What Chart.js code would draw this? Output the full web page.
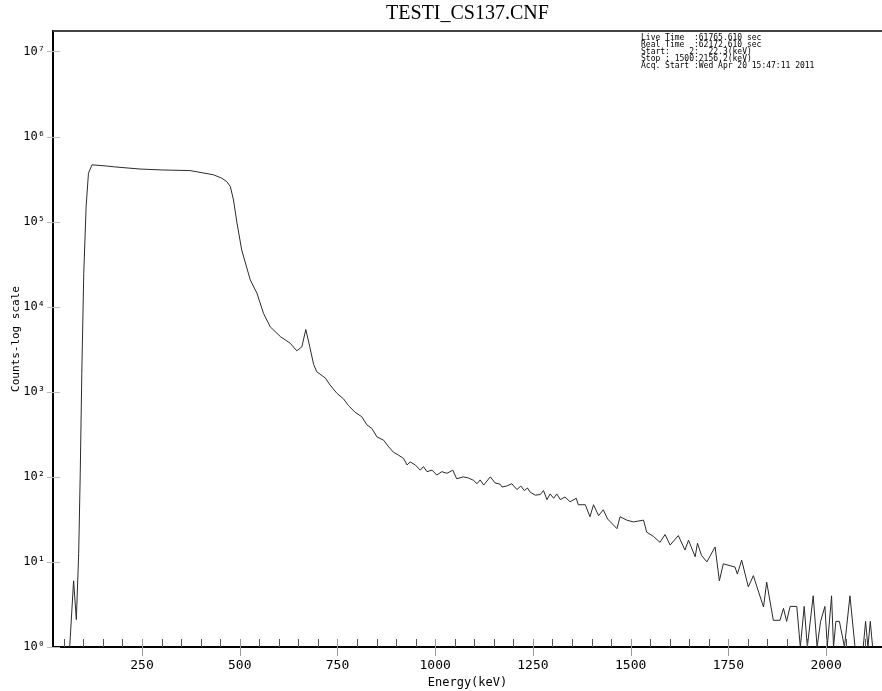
<!DOCTYPE html>
<html>
<head>
<meta charset="utf-8">
<title>TESTI_CS137.CNF</title>
<script src="https://cdn.jsdelivr.net/npm/chart.js@4.4.1/dist/chart.umd.min.js"></script>
<style>
  html, body { margin: 0; padding: 0; background: #fff; overflow: hidden; }
  canvas { display: block; }
</style>
</head>
<body>
<canvas id="spectrumChart" width="882" height="691"></canvas>
<script>
// Spectrum data (energy in keV, counts)
const energyKeV = [65, 75, 82, 88, 92, 96, 101, 107, 113, 122, 160, 180, 245, 300, 373, 433, 454, 467, 476, 484,
    493, 505, 527, 544, 561, 578, 604, 629, 646, 659, 669, 679, 689, 697, 719, 731, 749, 765, 778, 795,
    812, 825, 838, 851, 868, 881, 893, 906, 919, 928, 936, 949, 962, 970, 979, 992, 1004, 1017, 1030, 1045,
    1055, 1072, 1085, 1098, 1107, 1115, 1124, 1141, 1153, 1166, 1171, 1183, 1196, 1209, 1219, 1228, 1236, 1243, 1256, 1269,
    1277, 1286, 1294, 1303, 1311, 1320, 1332, 1345, 1361, 1366, 1384, 1396, 1405, 1418, 1430, 1441, 1465, 1473, 1490, 1507,
    1533, 1541, 1558, 1575, 1588, 1601, 1622, 1639, 1648, 1665, 1671, 1681, 1695, 1716, 1727, 1737, 1767, 1773, 1784, 1801,
    1814, 1823, 1840, 1848, 1865, 1882, 1891, 1899, 1908, 1925, 1934, 1944, 1952, 1967, 1977, 1986, 1997, 2003, 2014, 2019,
    2025, 2034, 2047, 2061, 2074, 2095, 2101, 2107, 2113, 2119];
const counts = [1, 6, 2.1, 12.5, 110, 1650, 24600, 150000, 370000, 465000, 450000, 440000, 415000, 405000, 398000, 355000, 324000, 295000, 258000, 180000,
    96000, 46500, 20600, 14400, 8300, 5800, 4450, 3720, 3030, 3380, 5400, 3400, 2100, 1720, 1450, 1200, 955, 830, 690, 575,
    510, 410, 370, 295, 270, 225, 195, 180, 165, 138, 150, 138, 120, 132, 115, 120, 105, 115, 110, 120,
    95, 100, 97, 91, 83, 92, 80, 100, 85, 82, 76, 78, 83, 71, 78, 69, 74, 66, 61, 62,
    69, 54, 63, 56, 63, 54, 58, 51, 56, 47, 47, 34, 47, 35, 41, 32, 24.6, 34, 31, 29.5,
    31, 22.4, 20, 17, 21, 15.8, 20.4, 13.8, 18, 11.5, 16.6, 12, 10, 15, 6, 9.5, 8.7, 7.2, 10.5, 5.1,
    6.9, 5.1, 2.95, 5.8, 2.06, 2.06, 2.85, 2, 3, 3, 1, 3, 1, 4, 1, 2, 3, 1, 4, 1,
    2, 2, 1, 4, 1, 1, 2, 1, 2, 1];

// Axis ticks
const xLabelTicks = [250, 500, 750, 1000, 1250, 1500, 1750, 2000];
const xMinorStep = 50;
const yDecades = [1, 10, 100, 1000, 10000, 100000, 1000000, 10000000];
const superscripts = ['\u2070', '\u00B9', '\u00B2', '\u00B3', '\u2074', '\u2075', '\u2076', '\u2077'];

// Acquisition info block (top right)
const infoLines = [
    'Live Time  :61765.610 sec',
    'Real Time  :62172.610 sec',
    'Start:    2:  22.3(keV)',
    'Stop : 1500:2156.2(keV)',
    'Acq. Start :Wed Apr 20 15:47:11 2011'
];

const monoFont = "'DejaVu Sans Mono', 'Liberation Mono', monospace";

// Title, info text, top border and tick marks
const decorPlugin = {
    id: 'decor',
    afterDraw(chart) {
        const ctx = chart.ctx;
        const area = chart.chartArea;
        const xs = chart.scales.x;
        const ys = chart.scales.y;
        ctx.save();

        // title
        ctx.fillStyle = '#000';
        ctx.font = "20px 'Liberation Serif', 'Times New Roman', serif";
        ctx.textAlign = 'center';
        ctx.textBaseline = 'middle';
        ctx.fillText('TESTI_CS137.CNF', (area.left + area.right) / 2, 14);

        // info text
        ctx.font = '8px ' + monoFont;
        ctx.textAlign = 'left';
        infoLines.forEach(function(line, i) {
            ctx.fillText(line, 641, 38 + i * 7);
        });

        // top border
        ctx.strokeStyle = '#444';
        ctx.lineWidth = 2;
        ctx.beginPath();
        ctx.moveTo(area.left, area.top);
        ctx.lineTo(area.right, area.top);
        ctx.stroke();

        // y decade ticks
        ctx.strokeStyle = '#bbb';
        ctx.lineWidth = 1;
        yDecades.forEach(function(v) {
            const py = Math.round(ys.getPixelForValue(v)) + 0.5;
            ctx.beginPath();
            ctx.moveTo(area.left - 6, py);
            ctx.lineTo(area.left + 7, py);
            ctx.stroke();
        });

        // x ticks: minor above the axis, labelled ones also below
        for (let v = xMinorStep; v <= xs.max; v += xMinorStep) {
            const px = Math.round(xs.getPixelForValue(v)) + 0.5;
            const major = xLabelTicks.indexOf(v) >= 0;
            ctx.strokeStyle = major ? '#999' : '#555';
            ctx.beginPath();
            ctx.moveTo(px, area.bottom - 8);
            ctx.lineTo(px, major ? area.bottom + 9 : area.bottom);
            ctx.stroke();
        }
        ctx.restore();
    }
};

const spectrumData = energyKeV.map(function(e, i) {
    return { x: e, y: counts[i] };
});

const chartCtx = document.getElementById('spectrumChart').getContext('2d');
const spectrumChart = new Chart(chartCtx, {
    type: 'line',
    data: {
        datasets: [{
            label: 'Counts',
            data: spectrumData,
            borderColor: '#2a2a2a',
            borderWidth: 1,
            pointRadius: 0,
            tension: 0,
            fill: false
        }]
    },
    options: {
        responsive: false,
        animation: false,
        layout: {
            padding: { top: 31, right: 0, left: 0, bottom: 0 }
        },
        plugins: {
            legend: { display: false },
            tooltip: { enabled: false },
            title: { display: false }
        },
        scales: {
            x: {
                type: 'linear',
                min: 22.3,
                max: 2143,
                afterBuildTicks: function(scale) {
                    scale.ticks = xLabelTicks.map(function(v) { return { value: v }; });
                },
                afterFit: function(scale) { scale.height = 44; },
                grid: { display: false },
                border: { display: true, color: '#000', width: 2 },
                ticks: {
                    autoSkip: false,
                    maxRotation: 0,
                    padding: 3,
                    color: '#000',
                    font: { family: monoFont, size: 13 },
                    callback: function(v) { return String(v); }
                },
                title: {
                    display: true,
                    text: 'Energy(keV)',
                    color: '#000',
                    font: { family: monoFont, size: 12 },
                    padding: { top: 0, bottom: 1 }
                }
            },
            y: {
                type: 'logarithmic',
                min: 1,
                max: 17400000,
                afterBuildTicks: function(scale) {
                    scale.ticks = yDecades.map(function(v) { return { value: v }; });
                },
                afterFit: function(scale) { scale.width = 53; },
                grid: { display: false },
                border: { display: true, color: '#000', width: 2 },
                ticks: {
                    autoSkip: false,
                    padding: 0,
                    color: '#000',
                    font: { family: monoFont, size: 12 },
                    callback: function(v) {
                        const exp = Math.round(Math.log10(v));
                        return '10' + superscripts[exp];
                    }
                },
                title: {
                    display: true,
                    text: 'Counts-log scale',
                    color: '#000',
                    font: { family: monoFont, size: 11 },
                    padding: { top: 10, bottom: 0 }
                }
            }
        }
    },
    plugins: [decorPlugin]
});
</script>
</body>
</html>
